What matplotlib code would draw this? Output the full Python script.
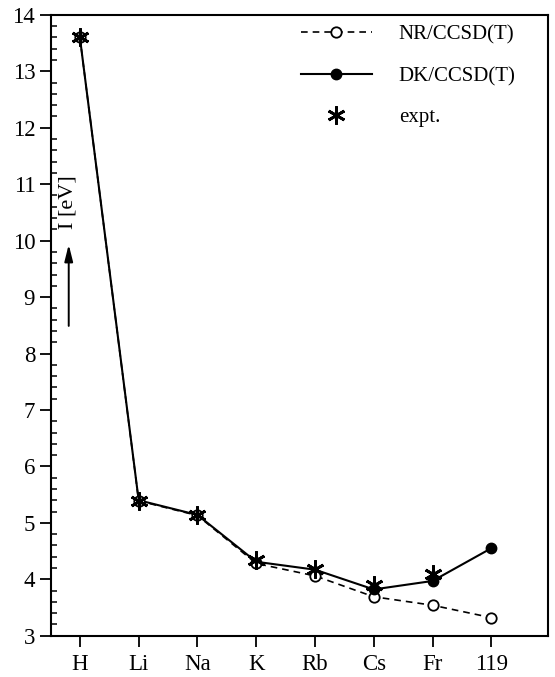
import numpy as np
import matplotlib.pyplot as plt
from matplotlib.lines import Line2D
from matplotlib.ticker import MultipleLocator

plt.rcParams['font.family'] = ['Liberation Serif', 'DejaVu Serif']

# data
elements = ['H', 'Li', 'Na', 'K', 'Rb', 'Cs', 'Fr', '119']
nr_ccsdt = [13.60, 5.39, 5.13, 4.28, 4.06, 3.69, 3.54, 3.32]
dk_ccsdt = [13.60, 5.40, 5.14, 4.31, 4.17, 3.82, 3.97, 4.55]
expt = [13.60, 5.39, 5.14, 4.34, 4.18, 3.89, 4.10]

x = np.arange(len(elements))

fig = plt.figure(figsize=(5.55, 6.77), dpi=100)
ax = fig.add_axes([0.091, 0.061, 0.897, 0.917])

# DK line underneath, markers only where they are visible
ax.plot(x, dk_ccsdt, '-', color='black', lw=1.5, zorder=2)
ax.plot(x, nr_ccsdt, linestyle=(0, (4, 3)), color='black', lw=1.2,
        marker='o', ms=7.5, mfc='white', mec='black', mew=1.3, zorder=3)
ax.plot(x[5:], dk_ccsdt[5:], 'o', color='black', ms=7.5, zorder=4)
ax.plot(x[:len(expt)], expt, linestyle='none', marker=(6, 2, 0), ms=13,
        mec='black', mew=2.0, zorder=5)

ax.set_xlim(-0.5, 7.97)
ax.set_ylim(3, 14)
ax.set_xticks(x)
ax.set_xticklabels(elements)
ax.yaxis.set_major_locator(MultipleLocator(1))
ax.yaxis.set_minor_locator(MultipleLocator(0.2))
ax.tick_params(axis='y', which='major', direction='out', length=8, width=1.3,
               labelsize=16.5, pad=3)
ax.tick_params(axis='y', which='minor', direction='in', length=4, width=1.1)
ax.tick_params(axis='x', which='major', direction='out', length=8, width=1.3,
               labelsize=16.5, pad=5)
for s in ax.spines.values():
    s.set_linewidth(1.5)

# axis label inside the plot with an arrow
ax.text(-0.2, 10.68, 'I [eV]', rotation=90, ha='center', va='center',
        fontsize=16)
ax.annotate('', xy=(-0.19, 9.98), xytext=(-0.19, 8.44),
            arrowprops=dict(arrowstyle='-|>,head_length=1.0,head_width=0.25',
                            color='black', lw=1.4))

handles = [
    Line2D([], [], linestyle=(0, (4, 3)), color='black', lw=1.2, marker='o',
           ms=7.5, mfc='white', mec='black', mew=1.3),
    Line2D([], [], linestyle='-', color='black', lw=1.5, marker='o', ms=7.5),
    Line2D([], [], linestyle='none', color='black', marker=(6, 2, 0), ms=13,
           mew=2.0),
]
ax.legend(handles, ['NR/CCSD(T)', 'DK/CCSD(T)', 'expt.'], loc='upper right',
          bbox_to_anchor=(0.972, 1.014), frameon=False, fontsize=15,
          handlelength=3.4, handletextpad=1.3, labelspacing=1.05)

fig.savefig('out.png', dpi=100)
